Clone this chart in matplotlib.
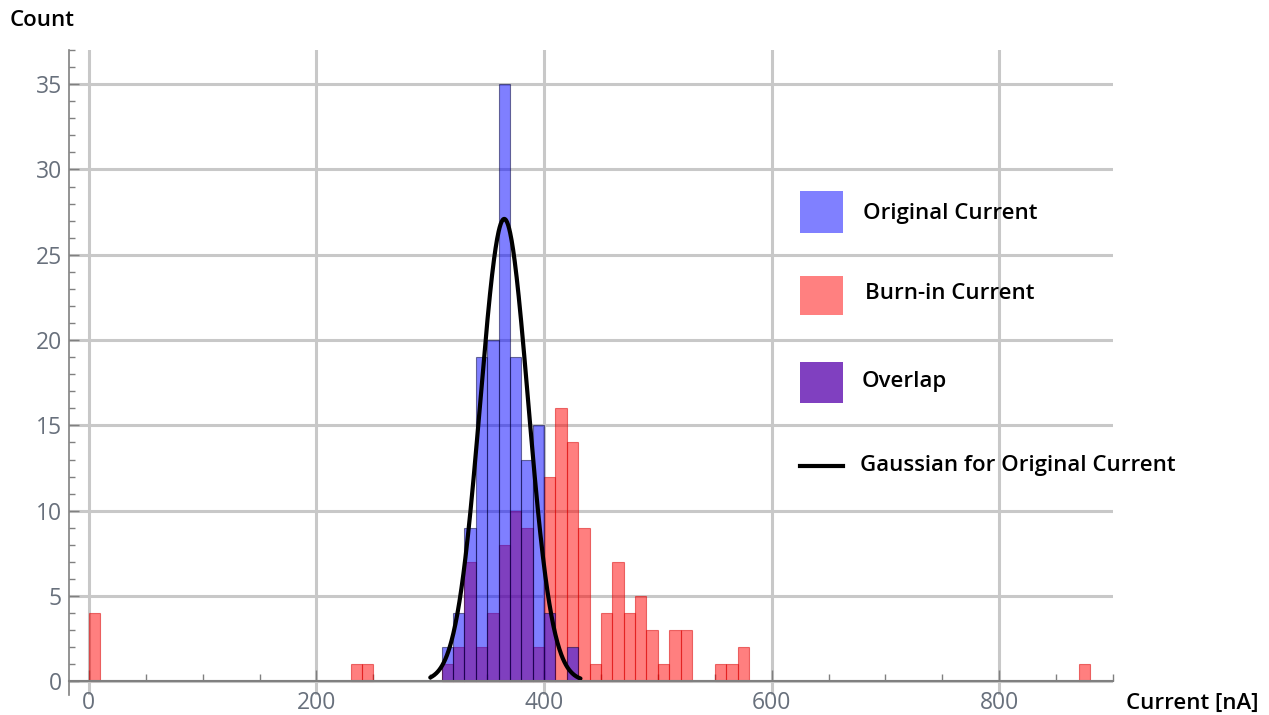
import numpy as np
import matplotlib
matplotlib.use("Agg")
import matplotlib.pyplot as plt
from matplotlib.patches import Rectangle
from matplotlib.lines import Line2D
from matplotlib.ticker import MultipleLocator

plt.rcParams['font.family'] = ['Open Sans', 'DejaVu Sans']

# histogram data (bin left edges in nA, bin width 10)
bin_width = 10
orig_edges = [310, 320, 330, 340, 350, 360, 370, 380, 390, 400, 410, 420]
orig_counts = [2, 4, 9, 19, 20, 35, 19, 13, 15, 4, 0, 2]

burn_edges = [0, 230, 240, 310, 320, 330, 340, 350, 360, 370, 380, 390,
              400, 410, 420, 430, 440, 450, 460, 470, 480, 490, 500, 510,
              520, 550, 560, 570, 870]
burn_counts = [4, 1, 1, 1, 2, 7, 2, 4, 8, 10, 9, 2,
               12, 16, 14, 9, 1, 4, 7, 4, 5, 3, 1, 3,
               3, 1, 1, 2, 1]

# gaussian fit for the original current
g_mu = 365.0
g_sigma = 21.0
g_amp = 27.1
g_range = (300, 432)

blue = '#0000ff'
red = '#ff0000'
grid_c = '#c8c8c8'
axis_c = '#808080'
label_c = '#68707c'

fig = plt.figure(figsize=(12.69, 7.15), dpi=100)
W, H = 1269, 715
ax = fig.add_axes([69 / W, 20 / H, 1044 / W, 645 / H])

ax.bar(burn_edges, burn_counts, width=bin_width, align='edge',
       color=red, alpha=0.5, edgecolor=(0.85, 0, 0, 0.5), linewidth=0.8, zorder=3)
ax.bar(orig_edges, orig_counts, width=bin_width, align='edge',
       color=blue, alpha=0.5, edgecolor=(0, 0, 0.2, 0.8), linewidth=0.8, zorder=4)

gx = np.linspace(g_range[0], g_range[1], 300)
gy = g_amp * np.exp(-(gx - g_mu) ** 2 / (2 * g_sigma ** 2))
ax.plot(gx, gy, color='black', linewidth=3, zorder=5, solid_capstyle='round')

ax.set_xlim(-17.5, 900)
ax.set_ylim(-0.8, 37)

ax.xaxis.set_major_locator(MultipleLocator(200))
ax.xaxis.set_minor_locator(MultipleLocator(50))
ax.yaxis.set_major_locator(MultipleLocator(5))
ax.yaxis.set_minor_locator(MultipleLocator(1))

ax.grid(True, which='major', color=grid_c, linewidth=2.2, zorder=0)
ax.set_axisbelow(True)

for s in ['top', 'right']:
    ax.spines[s].set_visible(False)
ax.spines['bottom'].set_position(('data', 0))
ax.spines['bottom'].set_color(axis_c)
ax.spines['bottom'].set_linewidth(1.5)
ax.spines['bottom'].set_zorder(6)
ax.spines['left'].set_color(axis_c)
ax.spines['left'].set_linewidth(1.2)

ax.tick_params(axis='x', which='major', direction='in', length=8, width=1,
               color=axis_c, labelcolor=label_c, labelsize=16.5, pad=7)
ax.tick_params(axis='x', which='minor', direction='in', length=5, width=1, color=axis_c)
ax.tick_params(axis='y', which='major', direction='in', length=7, width=1,
               color=axis_c, labelcolor=label_c, labelsize=16.5, pad=5)
ax.tick_params(axis='y', which='minor', direction='in', length=4, width=1, color=axis_c)

fig.text(10 / W, 1 - 20 / H, 'Count', fontsize=16, fontweight='semibold',
         va='center', ha='left')
fig.text(1126 / W, 1 - 703 / H, 'Current [nA]', fontsize=16, fontweight='semibold',
         va='center', ha='left')

# legend
tf = fig.transFigure
def box(y0, y1, color):
    fig.add_artist(Rectangle((800 / W, 1 - y1 / H), 43 / W, (y1 - y0) / H,
                             facecolor=color, edgecolor='none', transform=tf))

box(191, 233, '#8080ff')
box(276, 315, '#ff8080')
box(362, 403, '#8040c0')
fig.add_artist(Line2D([800 / W, 843 / W], [1 - 466 / H, 1 - 466 / H],
                      color='black', linewidth=3, transform=tf))

leg_items = [('Original Current', 213, 863), ('Burn-in Current', 294, 865),
             ('Overlap', 381, 862), ('Gaussian for Original Current', 466, 860)]
for txt, y, x in leg_items:
    fig.text(x / W, 1 - y / H, txt, fontsize=16, fontweight='semibold',
             va='center', ha='left')

fig.savefig('out.png', dpi=100)
